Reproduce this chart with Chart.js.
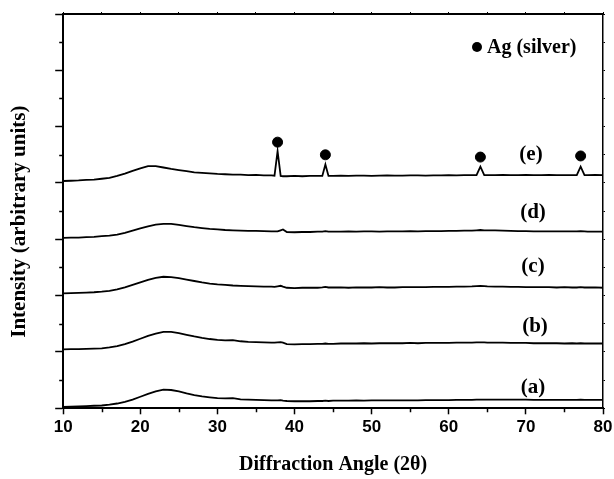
<!DOCTYPE html>
<html>
<head>
<meta charset="utf-8">
<script src="https://cdn.jsdelivr.net/npm/chart.js@4.4.1/dist/chart.umd.min.js"></script>
<style>
  html, body { margin: 0; padding: 0; background: #fff; }
  #wrap { width: 614px; height: 479px; }
</style>
</head>
<body>
<div id="wrap"><canvas id="xrd" width="614" height="479"></canvas></div>
<script>
// 2-theta positions (denser around the Ag reflections)
const angle = [10, 11, 12, 13, 14, 15, 16, 17, 18, 19, 20, 21, 22, 23, 24, 25, 26, 27, 28, 29,
  30, 31, 32, 33, 34, 35, 36, 37, 37.4, 37.8, 38.2, 38.5, 39, 40, 41, 42, 43, 43.6, 44, 44.4,
  45, 46, 47, 48, 49, 50, 51, 52, 53, 54, 55, 56, 57, 58, 59, 60, 61, 62, 63, 63.6,
  64.1, 64.6, 65, 66, 67, 68, 69, 70, 71, 72, 73, 74, 75, 76, 76.6, 77.1, 77.6, 78, 79, 80];

// intensities, already offset by the stacking in the figure
const sampleA = [0.05, 0.06, 0.07, 0.08, 0.09, 0.10, 0.13, 0.17, 0.23, 0.31, 0.41, 0.51, 0.60, 0.66, 0.65, 0.60, 0.53, 0.47, 0.42, 0.39,
  0.36, 0.35, 0.36, 0.32, 0.31, 0.30, 0.29, 0.28, 0.28, 0.28, 0.29, 0.27, 0.26, 0.25, 0.25, 0.25, 0.26, 0.26, 0.27, 0.26,
  0.27, 0.27, 0.27, 0.28, 0.27, 0.28, 0.28, 0.28, 0.28, 0.28, 0.28, 0.28, 0.29, 0.29, 0.29, 0.29, 0.30, 0.30, 0.30, 0.31,
  0.31, 0.31, 0.31, 0.31, 0.31, 0.31, 0.31, 0.31, 0.30, 0.30, 0.30, 0.30, 0.30, 0.30, 0.30, 0.31, 0.30, 0.30, 0.30, 0.30];
const sampleB = [2.09, 2.10, 2.10, 2.11, 2.12, 2.13, 2.16, 2.21, 2.28, 2.37, 2.47, 2.57, 2.65, 2.71, 2.71, 2.67, 2.61, 2.55, 2.50, 2.46,
  2.43, 2.41, 2.42, 2.38, 2.36, 2.35, 2.34, 2.33, 2.33, 2.34, 2.35, 2.33, 2.28, 2.27, 2.28, 2.28, 2.29, 2.29, 2.30, 2.29,
  2.29, 2.30, 2.30, 2.30, 2.31, 2.30, 2.31, 2.31, 2.31, 2.31, 2.32, 2.31, 2.32, 2.32, 2.32, 2.32, 2.33, 2.33, 2.33, 2.34,
  2.34, 2.34, 2.33, 2.33, 2.33, 2.32, 2.32, 2.32, 2.31, 2.31, 2.31, 2.31, 2.30, 2.31, 2.30, 2.31, 2.30, 2.30, 2.30, 2.30];
const sampleC = [4.08, 4.09, 4.10, 4.11, 4.12, 4.14, 4.17, 4.22, 4.29, 4.38, 4.47, 4.56, 4.63, 4.67, 4.66, 4.62, 4.57, 4.52, 4.47, 4.43,
  4.40, 4.38, 4.36, 4.35, 4.34, 4.33, 4.32, 4.32, 4.31, 4.33, 4.35, 4.32, 4.28, 4.27, 4.28, 4.28, 4.28, 4.29, 4.31, 4.29,
  4.29, 4.29, 4.28, 4.29, 4.29, 4.29, 4.30, 4.29, 4.29, 4.30, 4.30, 4.30, 4.30, 4.31, 4.31, 4.31, 4.32, 4.32, 4.33, 4.34,
  4.35, 4.34, 4.33, 4.32, 4.32, 4.31, 4.31, 4.30, 4.30, 4.30, 4.30, 4.29, 4.30, 4.29, 4.29, 4.30, 4.29, 4.29, 4.29, 4.28];
const sampleD = [6.05, 6.06, 6.06, 6.08, 6.09, 6.11, 6.13, 6.17, 6.23, 6.31, 6.39, 6.46, 6.52, 6.55, 6.55, 6.51, 6.47, 6.43, 6.40, 6.37,
  6.35, 6.33, 6.32, 6.31, 6.30, 6.30, 6.29, 6.28, 6.28, 6.28, 6.32, 6.35, 6.26, 6.25, 6.26, 6.26, 6.27, 6.27, 6.29, 6.27,
  6.27, 6.27, 6.28, 6.27, 6.28, 6.28, 6.27, 6.28, 6.28, 6.28, 6.29, 6.28, 6.29, 6.29, 6.29, 6.30, 6.30, 6.31, 6.31, 6.32,
  6.33, 6.32, 6.32, 6.32, 6.31, 6.30, 6.29, 6.29, 6.28, 6.28, 6.28, 6.28, 6.28, 6.28, 6.28, 6.29, 6.28, 6.27, 6.27, 6.27];
const sampleE = [8.07, 8.08, 8.09, 8.11, 8.12, 8.15, 8.18, 8.25, 8.33, 8.43, 8.52, 8.60, 8.60, 8.55, 8.50, 8.46, 8.42, 8.38, 8.36, 8.34,
  8.32, 8.31, 8.30, 8.30, 8.28, 8.29, 8.27, 8.27, 8.26, 9.13, 8.25, 8.24, 8.24, 8.25, 8.24, 8.25, 8.25, 8.25, 8.66, 8.25,
  8.25, 8.26, 8.25, 8.26, 8.26, 8.25, 8.26, 8.27, 8.26, 8.26, 8.27, 8.27, 8.26, 8.27, 8.27, 8.28, 8.27, 8.28, 8.28, 8.28,
  8.58, 8.28, 8.28, 8.28, 8.29, 8.28, 8.28, 8.29, 8.28, 8.28, 8.29, 8.28, 8.28, 8.28, 8.28, 8.58, 8.28, 8.28, 8.29, 8.28];

// Ag reflection markers above curve (e)
const agAngle = [37.8, 44.0, 64.1, 77.1];
const agMark = [9.45, 9.00, 8.92, 8.96];

const angleTicks = [10, 20, 30, 40, 50, 60, 70, 80];
const curveLabels = ['(a)', '(b)', '(c)', '(d)', '(e)'];
const samples = [sampleA, sampleB, sampleC, sampleD, sampleE];

const serif = 'Liberation Serif, Times New Roman, serif';

const traceSets = samples.map((s, i) => ({
  label: curveLabels[i],
  data: angle.map((a, k) => ({ x: a, y: s[k] })),
  borderColor: '#000',
  borderWidth: 1.8,
  pointRadius: 0,
  tension: 0,
  fill: false
}));

const agSet = {
  label: 'Ag (silver)',
  data: agAngle.map((a, k) => ({ x: a, y: agMark[k] })),
  showLine: false,
  pointRadius: 5,
  pointBackgroundColor: '#000',
  pointBorderColor: '#000'
};

// short ticks between the long ones (x every 5, y every 1)
const minorTicks = {
  id: 'minorTicks',
  afterDraw(chart) {
    const { ctx, scales: { x, y }, chartArea } = chart;
    ctx.save();
    ctx.strokeStyle = '#000';
    ctx.lineWidth = 1.5;
    ctx.beginPath();
    for (let v = 15; v < 80; v += 10) {
      const px = Math.round(x.getPixelForValue(v)) + 0.5;
      ctx.moveTo(px, chartArea.bottom);
      ctx.lineTo(px, chartArea.bottom + 4);
    }
    for (let v = 1; v < 14; v += 2) {
      const py = Math.round(y.getPixelForValue(v)) + 0.5;
      ctx.moveTo(chartArea.left - 4, py);
      ctx.lineTo(chartArea.left, py);
    }
    ctx.stroke();
    ctx.restore();
  }
};

// curve names and the marker key
const notes = {
  id: 'notes',
  afterDraw(chart) {
    const { ctx } = chart;
    const labelY = [388, 327, 267, 213, 155];
    const labelX = [533, 535, 533, 533, 531];
    ctx.save();
    ctx.fillStyle = '#000';
    ctx.font = 'bold 21px ' + serif;
    ctx.textAlign = 'center';
    ctx.textBaseline = 'middle';
    curveLabels.forEach((t, i) => ctx.fillText(t, labelX[i], labelY[i]));

    ctx.beginPath();
    ctx.arc(477, 47, 5, 0, Math.PI * 2);
    ctx.fill();
    ctx.font = 'bold 20px ' + serif;
    ctx.textAlign = 'left';
    ctx.fillText(chart.data.datasets[5].label, 487, 48);
    ctx.restore();
  }
};

new Chart(document.getElementById('xrd'), {
  type: 'line',
  data: { datasets: [...traceSets, agSet] },
  options: {
    responsive: false,
    animation: false,
    layout: { padding: { top: 12, right: 9, left: 0, bottom: 0 } },
    plugins: {
      legend: { display: false },
      tooltip: { enabled: false }
    },
    scales: {
      x: {
        type: 'linear',
        position: 'bottom',
        min: 10,
        max: 80,
        afterBuildTicks: (s) => { s.ticks = angleTicks.map(v => ({ value: v })); },
        afterFit: (s) => { s.paddingLeft = 0; s.paddingRight = 0; },
        border: { display: true, color: '#000', width: 2 },
        grid: { drawOnChartArea: false, tickLength: 6, tickWidth: 1.5, tickColor: '#000' },
        ticks: {
          color: '#000',
          padding: 4,
          maxRotation: 0,
          font: { family: 'Liberation Sans, Arial, sans-serif', size: 17, weight: 'bold', lineHeight: 1.1 }
        },
        title: {
          display: true,
          text: 'Diffraction Angle (2θ)',
          color: '#000',
          font: { family: serif, size: 20, weight: 'bold', lineHeight: 1.2 },
          padding: { top: 12, bottom: 2 }
        }
      },
      x2: {
        type: 'linear',
        position: 'top',
        min: 10,
        max: 80,
        ticks: { display: false, stepSize: 5 },
        border: { display: true, color: '#000', width: 2 },
        grid: { drawOnChartArea: false, tickLength: 2, tickWidth: 1, tickColor: '#000' }
      },
      y: {
        type: 'linear',
        position: 'left',
        min: 0,
        max: 14,
        ticks: { display: false, stepSize: 2 },
        border: { display: true, color: '#000', width: 2 },
        grid: { drawOnChartArea: false, tickLength: 8, tickWidth: 1.5, tickColor: '#000' },
        title: {
          display: true,
          text: 'Intensity (arbitrary units)    ',
          color: '#000',
          font: { family: serif, size: 21, weight: 'bold', lineHeight: 1.2 },
          padding: { top: 7, bottom: 23 }
        }
      },
      y2: {
        type: 'linear',
        position: 'right',
        min: 0,
        max: 14,
        ticks: { display: false, stepSize: 1 },
        border: { display: true, color: '#000', width: 1.5 },
        grid: { drawOnChartArea: false, tickLength: 2, tickWidth: 1, tickColor: '#000' }
      }
    }
  },
  plugins: [minorTicks, notes]
});
</script>
</body>
</html>
